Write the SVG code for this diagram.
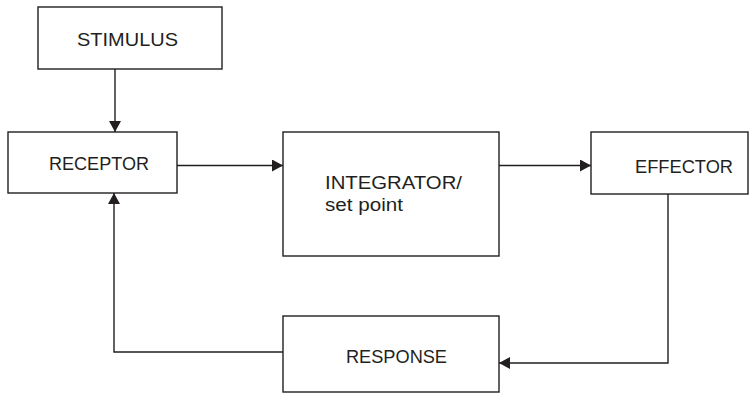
<svg xmlns="http://www.w3.org/2000/svg" width="753" height="393" viewBox="0 0 753 393">
<style>
.box{fill:#fff;stroke:#231f20;stroke-width:1.4}
.lbl{font-family:"Liberation Sans",Arial,sans-serif;font-size:18px;fill:#231f20}
.conn{fill:none;stroke:#231f20;stroke-width:1.4}
</style>
<defs>
<marker id="ah" markerUnits="userSpaceOnUse" markerWidth="11" markerHeight="12" refX="11" refY="6" orient="auto">
<path d="M0,0 L11,6 L0,12 z" fill="#231f20"/>
</marker>
</defs>
<rect width="753" height="393" fill="#fff"/>
<g id="connectors">
<path class="conn" d="M115,69 V132" marker-end="url(#ah)"/>
<path class="conn" d="M177,165.5 H283" marker-end="url(#ah)"/>
<path class="conn" d="M499,165.5 H591" marker-end="url(#ah)"/>
<path class="conn" d="M668,194 V363 H499" marker-end="url(#ah)"/>
<path class="conn" d="M283,352 H114 V193" marker-end="url(#ah)"/>
</g>
<g id="stimulus">
<rect class="box" x="38" y="7" width="184" height="62"/>
<text class="lbl" x="77" y="46" textLength="101" lengthAdjust="spacingAndGlyphs">STIMULUS</text>
</g>
<g id="receptor">
<rect class="box" x="8" y="132" width="169" height="61"/>
<text class="lbl" x="49" y="170" textLength="100" lengthAdjust="spacingAndGlyphs">RECEPTOR</text>
</g>
<g id="integrator">
<rect class="box" x="283" y="132" width="216" height="124"/>
<text class="lbl" x="325" y="189" textLength="137" lengthAdjust="spacingAndGlyphs">INTEGRATOR/</text>
<text class="lbl" x="325" y="211" textLength="78" lengthAdjust="spacingAndGlyphs">set point</text>
</g>
<g id="effector">
<rect class="box" x="591" y="132" width="157" height="62"/>
<text class="lbl" x="635" y="173" textLength="98" lengthAdjust="spacingAndGlyphs">EFFECTOR</text>
</g>
<g id="response">
<rect class="box" x="283" y="316" width="216" height="76"/>
<text class="lbl" x="346" y="363" textLength="101" lengthAdjust="spacingAndGlyphs">RESPONSE</text>
</g>
</svg>
